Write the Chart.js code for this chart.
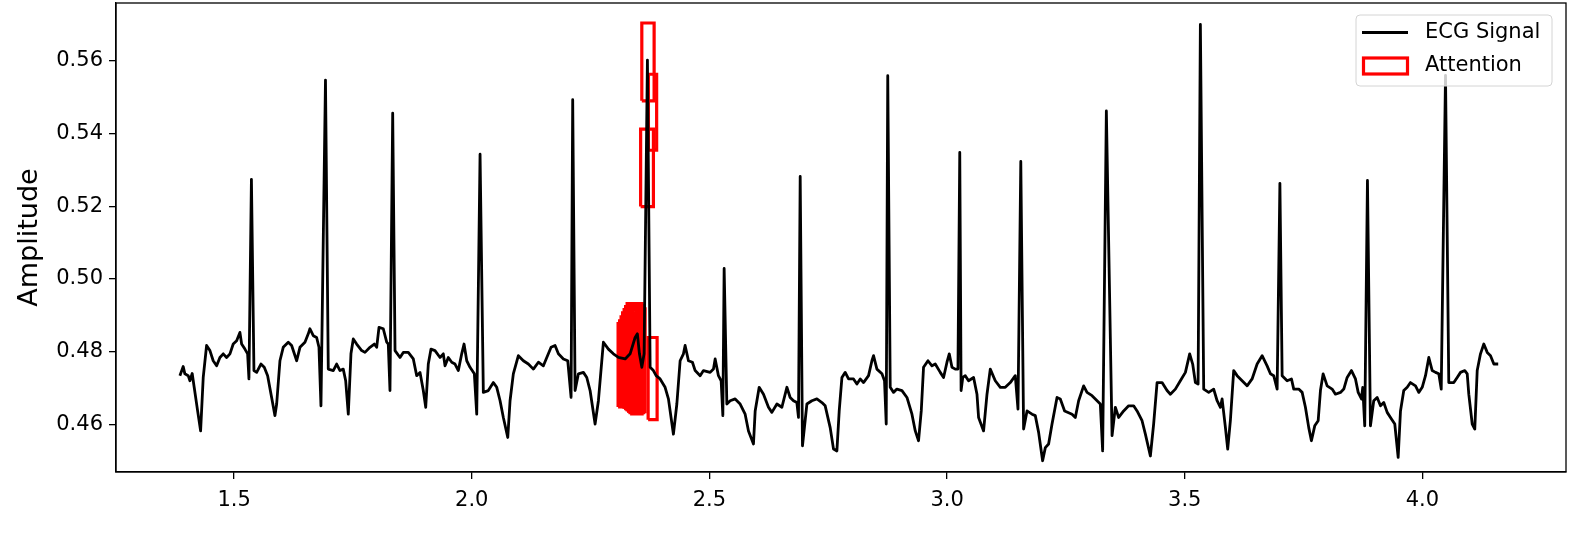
<!DOCTYPE html>
<html>
<head>
<meta charset="utf-8">
<script src="https://cdn.jsdelivr.net/npm/chart.js@4.4.1/dist/chart.umd.min.js"></script>
<style>
  html, body { margin: 0; padding: 0; background: #ffffff; }
  #wrap { width: 1578px; height: 535px; }
</style>
</head>
<body>
<div id="wrap"><canvas id="ecgChart" width="1578" height="535"></canvas></div>
<script>
// time (x) and amplitude (y) of the ECG trace
const timeVals = [
  1.3859, 1.3929, 1.3964, 1.4034, 1.4070, 1.4118, 1.4160, 1.4232, 1.4295, 1.4350,
  1.4421, 1.4491, 1.4560, 1.4632, 1.4701, 1.4771, 1.4842, 1.4912, 1.4981, 1.5053,
  1.5122, 1.5158, 1.5227, 1.5284, 1.5312, 1.5364, 1.5417, 1.5474, 1.5564, 1.5634,
  1.5705, 1.5789, 1.5859, 1.5895, 1.5964, 1.6033, 1.6139, 1.6210, 1.6316, 1.6385,
  1.6490, 1.6560, 1.6595, 1.6665, 1.6736, 1.6785, 1.6827, 1.6922, 1.6981, 1.7086,
  1.7157, 1.7227, 1.7296, 1.7347, 1.7402, 1.7458, 1.7507, 1.7578, 1.7684, 1.7753,
  1.7858, 1.7949, 1.7999, 1.8048, 1.8138, 1.8210, 1.8243, 1.8279, 1.8336, 1.8385,
  1.8490, 1.8559, 1.8664, 1.8770, 1.8841, 1.8911, 1.8980, 1.9031, 1.9085, 1.9142,
  1.9226, 1.9332, 1.9401, 1.9437, 1.9506, 1.9578, 1.9647, 1.9717, 1.9788, 1.9837,
  1.9894, 1.9963, 2.0054, 2.0104, 2.0174, 2.0243, 2.0348, 2.0454, 2.0525, 2.0595,
  2.0664, 2.0757, 2.0805, 2.0874, 2.0980, 2.1085, 2.1190, 2.1296, 2.1401, 2.1506,
  2.1578, 2.1668, 2.1752, 2.1822, 2.1927, 2.2019, 2.2089, 2.2123, 2.2173, 2.2243,
  2.2348, 2.2419, 2.2489, 2.2594, 2.2664, 2.2769, 2.2874, 2.2979, 2.3085, 2.3226,
  2.3331, 2.3436, 2.3484, 2.3527, 2.3577, 2.3625, 2.3695, 2.3752, 2.3821, 2.3878,
  2.3962, 2.4067, 2.4137, 2.4242, 2.4314, 2.4383, 2.4453, 2.4488, 2.4558, 2.4642,
  2.4699, 2.4804, 2.4874, 2.5015, 2.5084, 2.5120, 2.5189, 2.5246, 2.5282, 2.5309,
  2.5366, 2.5436, 2.5541, 2.5646, 2.5751, 2.5821, 2.5926, 2.5962, 2.6046, 2.6137,
  2.6242, 2.6313, 2.6419, 2.6524, 2.6629, 2.6698, 2.6768, 2.6839, 2.6873, 2.6909,
  2.6957, 2.7050, 2.7155, 2.7260, 2.7366, 2.7435, 2.7540, 2.7610, 2.7681, 2.7730,
  2.7787, 2.7856, 2.7926, 2.8031, 2.8102, 2.8172, 2.8241, 2.8347, 2.8418, 2.8452,
  2.8523, 2.8629, 2.8683, 2.8719, 2.8751, 2.8803, 2.8873, 2.8944, 2.9050, 2.9155,
  2.9260, 2.9330, 2.9399, 2.9456, 2.9504, 2.9597, 2.9681, 2.9751, 2.9856, 2.9925,
  2.9997, 3.0045, 3.0102, 3.0171, 3.0228, 3.0266, 3.0294, 3.0329, 3.0382, 3.0451,
  3.0557, 3.0628, 3.0662, 3.0767, 3.0839, 3.0908, 3.1013, 3.1119, 3.1224, 3.1329,
  3.1434, 3.1491, 3.1550, 3.1609, 3.1681, 3.1786, 3.1855, 3.1925, 3.2009, 3.2066,
  3.2135, 3.2207, 3.2312, 3.2381, 3.2472, 3.2628, 3.2697, 3.2767, 3.2872, 3.2943,
  3.3049, 3.3118, 3.3223, 3.3272, 3.3350, 3.3470, 3.3539, 3.3609, 3.3714, 3.3819,
  3.3924, 3.3996, 3.4101, 3.4171, 3.4276, 3.4345, 3.4417, 3.4522, 3.4627, 3.4697,
  3.4802, 3.4907, 3.5013, 3.5103, 3.5166, 3.5223, 3.5280, 3.5328, 3.5398, 3.5503,
  3.5608, 3.5680, 3.5749, 3.5785, 3.5855, 3.5903, 3.5959, 3.6029, 3.6101, 3.6206,
  3.6311, 3.6416, 3.6522, 3.6627, 3.6732, 3.6802, 3.6871, 3.6943, 3.7001, 3.7048,
  3.7153, 3.7244, 3.7292, 3.7397, 3.7469, 3.7538, 3.7608, 3.7664, 3.7734, 3.7806,
  3.7854, 3.7911, 3.7995, 3.8100, 3.8170, 3.8275, 3.8345, 3.8416, 3.8507, 3.8591,
  3.8648, 3.8717, 3.8744, 3.8786, 3.8843, 3.8906, 3.8975, 3.9047, 3.9117, 3.9186,
  3.9258, 3.9348, 3.9418, 3.9489, 3.9538, 3.9607, 3.9679, 3.9748, 3.9854, 3.9923,
  3.9995, 4.0064, 4.0134, 4.0205, 4.0275, 4.0344, 4.0395, 4.0485, 4.0554, 4.0660,
  4.0731, 4.0801, 4.0891, 4.0942, 4.0975, 4.1047, 4.1101, 4.1152, 4.1221, 4.1291,
  4.1363, 4.1432, 4.1502, 4.1594
];
const ecgVals = [
  0.4734, 0.4759, 0.4739, 0.4734, 0.4720, 0.4740, 0.4702, 0.4637, 0.4582, 0.4729,
  0.4817, 0.4803, 0.4775, 0.4761, 0.4784, 0.4794, 0.4784, 0.4794, 0.4821, 0.4830,
  0.4853, 0.4821, 0.4807, 0.4794, 0.4725, 0.5274, 0.4748, 0.4743, 0.4766, 0.4757,
  0.4734, 0.4674, 0.4624, 0.4656, 0.4775, 0.4812, 0.4826, 0.4817, 0.4775, 0.4812,
  0.4826, 0.4849, 0.4863, 0.4844, 0.4839, 0.4812, 0.4651, 0.5547, 0.4752, 0.4748,
  0.4766, 0.4748, 0.4752, 0.4720, 0.4628, 0.4794, 0.4835, 0.4821, 0.4803, 0.4798,
  0.4812, 0.4821, 0.4812, 0.4867, 0.4863, 0.4826, 0.4821, 0.4693, 0.5456, 0.4803,
  0.4784, 0.4798, 0.4798, 0.4780, 0.4734, 0.4743, 0.4693, 0.4647, 0.4766, 0.4807,
  0.4803, 0.4784, 0.4794, 0.4761, 0.4784, 0.4771, 0.4766, 0.4748, 0.4794, 0.4821,
  0.4775, 0.4757, 0.4739, 0.4628, 0.5343, 0.4688, 0.4693, 0.4715, 0.4702, 0.4665,
  0.4619, 0.4564, 0.4665, 0.4739, 0.4789, 0.4775, 0.4766, 0.4752, 0.4771, 0.4761,
  0.4784, 0.4812, 0.4817, 0.4794, 0.4780, 0.4775, 0.4674, 0.5493, 0.4693, 0.4739,
  0.4743, 0.4729, 0.4693, 0.4601, 0.4665, 0.4826, 0.4807, 0.4794, 0.4784, 0.4780,
  0.4794, 0.4839, 0.4849, 0.4794, 0.4757, 0.4794, 0.5602, 0.4757, 0.4748, 0.4734,
  0.4725, 0.4702, 0.4670, 0.4573, 0.4656, 0.4775, 0.4794, 0.4817, 0.4775, 0.4771,
  0.4748, 0.4734, 0.4748, 0.4743, 0.4752, 0.4780, 0.4734, 0.4720, 0.4624, 0.5029,
  0.4656, 0.4665, 0.4670, 0.4656, 0.4628, 0.4582, 0.4546, 0.4637, 0.4702, 0.4683,
  0.4647, 0.4633, 0.4656, 0.4647, 0.4702, 0.4674, 0.4665, 0.4660, 0.4619, 0.5282,
  0.4541, 0.4656, 0.4665, 0.4670, 0.4660, 0.4651, 0.4591, 0.4532, 0.4527, 0.4637,
  0.4729, 0.4743, 0.4725, 0.4725, 0.4711, 0.4725, 0.4715, 0.4734, 0.4775, 0.4789,
  0.4752, 0.4739, 0.4720, 0.4601, 0.5559, 0.4702, 0.4688, 0.4697, 0.4693, 0.4674,
  0.4628, 0.4582, 0.4555, 0.4637, 0.4757, 0.4775, 0.4761, 0.4766, 0.4743, 0.4729,
  0.4771, 0.4794, 0.4757, 0.4752, 0.4752, 0.5348, 0.4693, 0.4729, 0.4734, 0.4720,
  0.4729, 0.4683, 0.4619, 0.4582, 0.4683, 0.4752, 0.4720, 0.4702, 0.4702, 0.4715,
  0.4734, 0.4642, 0.5323, 0.4587, 0.4637, 0.4628, 0.4624, 0.4578, 0.4500, 0.4536,
  0.4546, 0.4601, 0.4674, 0.4670, 0.4637, 0.4628, 0.4619, 0.4665, 0.4706, 0.4688,
  0.4679, 0.4670, 0.4656, 0.4527, 0.5462, 0.4569, 0.4647, 0.4619, 0.4637, 0.4651,
  0.4651, 0.4637, 0.4610, 0.4573, 0.4513, 0.4601, 0.4715, 0.4715, 0.4693, 0.4683,
  0.4697, 0.4720, 0.4743, 0.4794, 0.4766, 0.4715, 0.4711, 0.5700, 0.4697, 0.4688,
  0.4697, 0.4665, 0.4647, 0.4670, 0.4591, 0.4532, 0.4610, 0.4748, 0.4734, 0.4720,
  0.4706, 0.4725, 0.4766, 0.4789, 0.4761, 0.4739, 0.4734, 0.4697, 0.5263, 0.4734,
  0.4720, 0.4725, 0.4697, 0.4697, 0.4688, 0.4647, 0.4591, 0.4555, 0.4596, 0.4610,
  0.4693, 0.4739, 0.4706, 0.4697, 0.4683, 0.4688, 0.4697, 0.4729, 0.4748, 0.4725,
  0.4688, 0.4670, 0.4702, 0.4596, 0.5271, 0.4596, 0.4665, 0.4674, 0.4651, 0.4660,
  0.4633, 0.4615, 0.4601, 0.4509, 0.4637, 0.4693, 0.4702, 0.4715, 0.4706, 0.4688,
  0.4702, 0.4734, 0.4784, 0.4748, 0.4743, 0.4739, 0.4697, 0.5560, 0.4715, 0.4715,
  0.4729, 0.4743, 0.4748, 0.4739, 0.4683, 0.4601, 0.4587, 0.4748, 0.4794, 0.4821,
  0.4798, 0.4789, 0.4766, 0.4766
];

// attention boxes: time start/end and amplitude low/high
const attnX0 = [2.3577, 2.3716, 2.3552,
                2.3078, 2.3110, 2.3141, 2.3173, 2.3205, 2.3236, 2.3268, 2.3299, 2.3331, 2.3363, 2.3394,
                2.3710];
const attnX1 = [2.3836, 2.3889, 2.3821,
                2.3331, 2.3363, 2.3394, 2.3426, 2.3457, 2.3489, 2.3520, 2.3552, 2.3583, 2.3615, 2.3646,
                2.3899];
const attnY0 = [0.5490, 0.5354, 0.5199,
                0.4648, 0.4654, 0.4651, 0.4648, 0.4643, 0.4640, 0.4637, 0.4632, 0.4629, 0.4632, 0.4635,
                0.4613];
const attnY1 = [0.5704, 0.5563, 0.5412,
                0.4877, 0.4885, 0.4896, 0.4907, 0.4916, 0.4924, 0.4932, 0.4932, 0.4932, 0.4927, 0.4918,
                0.4839];

const xTicks = [1.5, 2.0, 2.5, 3.0, 3.5, 4.0];
const yTicks = [0.46, 0.48, 0.50, 0.52, 0.54, 0.56];

const FONT = "'DejaVu Sans', sans-serif";

const datasets = [
  {
    label: "ECG Signal",
    data: timeVals.map((t, i) => ({ x: t, y: ecgVals[i] })),
    borderColor: "#000000",
    borderWidth: 2.8,
    borderJoinStyle: "round",
    pointRadius: 0,
    tension: 0,
  },
];
attnX0.forEach((x0, i) => {
  const x1 = attnX1[i], y0 = attnY0[i], y1 = attnY1[i];
  datasets.push({
    label: "Attention",
    data: [
      { x: x0, y: y0 }, { x: x1, y: y0 }, { x: x1, y: y1 },
      { x: x0, y: y1 }, { x: x0, y: y0 },
    ],
    borderColor: "#ff0000",
    borderWidth: 3.2,
    pointRadius: 0,
    tension: 0,
  });
});

// full box around the plot area (matplotlib spines)
const framePlugin = {
  id: "frame",
  afterDatasetsDraw(chart) {
    const { ctx, chartArea: a } = chart;
    ctx.save();
    ctx.strokeStyle = "#000000";
    ctx.lineWidth = 1.3;
    ctx.strokeRect(a.left, a.top, a.right - a.left, a.bottom - a.top);
    ctx.restore();
  },
};

// legend box in the upper right corner, inside the plot
const boxLegend = {
  id: "boxLegend",
  afterDraw(chart) {
    const { ctx, chartArea: a } = chart;
    const w = 196, h = 71;
    const left = a.right - 14 - w, top = a.top + 12;
    ctx.save();
    ctx.beginPath();
    ctx.roundRect(left, top, w, h, 4);
    ctx.fillStyle = "rgba(255,255,255,0.8)";
    ctx.fill();
    ctx.strokeStyle = "#d4d4d4";
    ctx.lineWidth = 1;
    ctx.stroke();

    ctx.beginPath();
    ctx.moveTo(left + 6, top + 17.5);
    ctx.lineTo(left + 52, top + 17.5);
    ctx.strokeStyle = "#000000";
    ctx.lineWidth = 2.8;
    ctx.stroke();

    ctx.fillStyle = "#ffffff";
    ctx.fillRect(left + 7.5, top + 43, 44, 16);
    ctx.strokeStyle = "#ff0000";
    ctx.lineWidth = 3.2;
    ctx.strokeRect(left + 7.5, top + 43, 44, 16);

    ctx.fillStyle = "#000000";
    ctx.font = "21px " + FONT;
    ctx.textBaseline = "middle";
    ctx.fillText(datasets[0].label, left + 69, top + 18);
    ctx.fillText(datasets[1].label, left + 69, top + 51);
    ctx.restore();
  },
};

new Chart(document.getElementById("ecgChart"), {
  type: "line",
  data: { datasets: datasets },
  plugins: [framePlugin, boxLegend],
  options: {
    responsive: false,
    devicePixelRatio: 1,
    animation: false,
    layout: { padding: { left: 0, right: 12, top: 3, bottom: 0 } },
    plugins: {
      legend: { display: false },
      tooltip: { enabled: false },
    },
    scales: {
      x: {
        type: "linear",
        min: 1.2515,
        max: 4.302,
        afterBuildTicks: (s) => { s.ticks = xTicks.map((v) => ({ value: v })); },
        afterFit: (s) => {
          s.height = 63;
          s.paddingLeft = 0; s.paddingRight = 0;
        },
        ticks: {
          callback: (v) => Number(v).toFixed(1),
          color: "#000000",
          font: { family: FONT, size: 21 },
          padding: 9,
          maxRotation: 0,
          autoSkip: false,
        },
        grid: { drawOnChartArea: false, color: "#000000", tickLength: 7, lineWidth: 1.3 },
        border: { display: true, color: "#000000", width: 1.3 },
      },
      y: {
        min: 0.4469,
        max: 0.5759,
        afterBuildTicks: (s) => { s.ticks = yTicks.map((v) => ({ value: v })); },
        afterFit: (s) => {
          s.width = 116;
          s.paddingTop = 0; s.paddingBottom = 0;
        },
        ticks: {
          callback: (v) => Number(v).toFixed(2),
          color: "#000000",
          font: { family: FONT, size: 21 },
          padding: 6,
          autoSkip: false,
        },
        grid: { drawOnChartArea: false, color: "#000000", tickLength: 7, lineWidth: 1.3 },
        border: { display: true, color: "#000000", width: 1.3 },
        title: {
          display: true,
          text: "Amplitude",
          color: "#000000",
          font: { family: FONT, size: 27 },
          padding: { top: 14, bottom: 0 },
        },
      },
    },
  },
});
</script>
</body>
</html>
